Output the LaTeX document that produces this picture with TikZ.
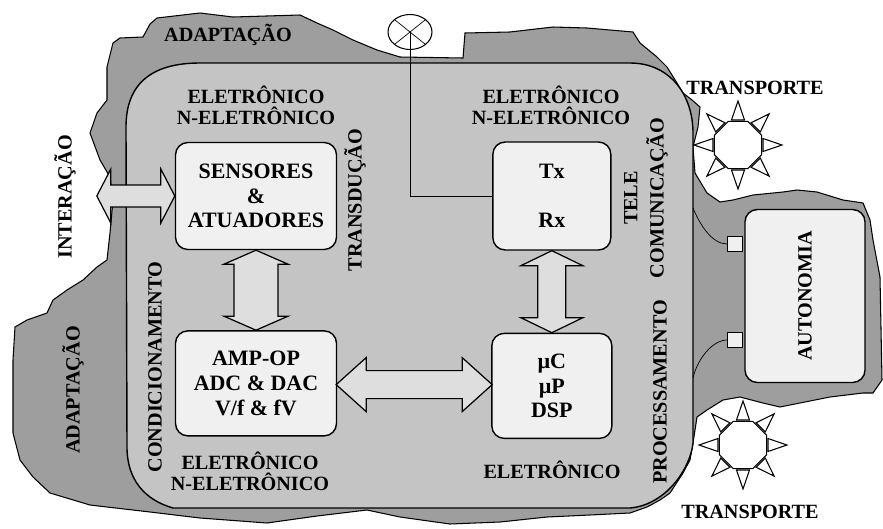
\documentclass[tikz,border=0pt]{standalone}
\usepackage{fontspec}
\setmainfont{Liberation Serif}
\usetikzlibrary{positioning, shapes.geometric, calc}

\definecolor{blobgray}{RGB}{158,158,158}
\definecolor{innergray}{RGB}{196,196,196}
\definecolor{boxgray}{RGB}{240,240,240}
\definecolor{arrowgray}{RGB}{222,222,222}

\begin{document}
\begin{tikzpicture}[
    x=0.02cm, y=-0.02cm,
    box/.style={font=\bfseries\fontsize{12.5}{14}\selectfont, draw, thick, fill=boxgray, rounded corners=7pt, align=center, inner sep=2pt},
    lbl/.style={font=\bfseries\fontsize{11.5}{12}\selectfont, align=center, inner sep=1pt},
    vlbl/.style={lbl, rotate=90},
    sq/.style={draw, fill=boxgray, minimum size=0.3cm, inner sep=0pt},
    ray/.style={draw, fill=white, line width=0.6pt},
    pics/dblarrow/.style n args={4}{code={
      \draw[fill=arrowgray, line width=0.7pt] (-#1,0) -- (-#1+#4,-#3) -- (-#1+#4,-#2) -- (#1-#4,-#2) -- (#1-#4,-#3) -- (#1,0)
        -- (#1-#4,#3) -- (#1-#4,#2) -- (-#1+#4,#2) -- (-#1+#4,#3) -- cycle;
    }}
]
  \useasboundingbox (0,0) rectangle (883,528);

  % Outer region (adaptation)
  \draw[fill=blobgray, line width=0.6pt] (113,43) -- (120,38) -- (143,37) -- (150,24) -- (157,18) -- (200,13) -- (233,17)
    -- (300,15) -- (317,23) -- (333,30) -- (353,40) -- (377,50) -- (400,57) -- (463,58) -- (465,33) -- (510,32)
    -- (553,27) -- (587,28) -- (633,32) -- (640,43) -- (657,57) -- (667,67) -- (677,83) -- (683,93) -- (692,100)
    -- (700,107) -- (698,127) -- (693,147) -- (695,173) -- (707,193) -- (720,202) -- (733,200) -- (753,195)
    -- (783,192) -- (797,190) -- (817,192) -- (843,200) -- (863,203) -- (870,220) -- (873,240) -- (880,277)
    -- (882,380) -- (873,393) -- (863,393) -- (830,397) -- (780,407) -- (763,403) -- (740,397) -- (723,400)
    -- (707,410) -- (697,417) -- (693,443) -- (690,460) -- (683,473) -- (670,493) -- (660,500) -- (647,507)
    -- (630,513) -- (590,515) -- (547,517) -- (500,522) -- (450,524) -- (400,517) -- (367,510) -- (317,516)
    -- (267,523) -- (200,518) -- (150,512) -- (90,505) -- (50,493) -- (33,477) -- (20,460) -- (13,433)
    -- (13,360) -- (15,327) -- (27,320) -- (47,313) -- (53,300) -- (67,290) -- (83,280) -- (97,267) -- (107,260)
    -- (110,233) -- (113,200) -- (110,177) -- (100,160) -- (90,133) -- (97,113) -- (107,100) -- (107,67) -- cycle;

  % Inner region (electronic system)
  \draw[fill=innergray, line width=0.8pt] (200,63) -- (630,63) .. controls (670,63) and (693,95) .. (693,133)
    -- (693,443) .. controls (690,470) and (665,505) .. (630,508) -- (173,508)
    .. controls (145,500) and (127,480) .. (127,447) -- (126,127) .. controls (126,85) and (150,63) .. (200,63) -- cycle;

  % Blocks
  \node[box, minimum width=3.22cm, minimum height=2.14cm] (sens) at (256,196) {SENSORES\\\&\\ATUADORES};
  \node[box, minimum width=3.22cm, minimum height=2.1cm, below=1.6cm of sens] (amp) {AMP-OP\\ADC \& DAC\\V/f \& fV};
  \node[box, minimum width=2.36cm, minimum height=2.16cm, right=3.1cm of sens] (tx) {Tx\\[14pt]Rx};
  \node[box, minimum width=2.4cm, minimum height=2.1cm, below=1.64cm of tx] (mu) {µC\\µP\\DSP};
  \node[box, minimum width=2.4cm, minimum height=3.46cm] (auto) at (805,296) {};
  \node[vlbl] (autolbl) at (auto) {AUTONOMIA};

  % Block arrows
  \pic at ($(sens.west)+(-39,0)$) {dblarrow={39}{11}{27}{14}};
  \pic[rotate=90] at ($(sens.south)!0.5!(amp.north)$) {dblarrow={40}{22}{32}{14}};
  \pic[rotate=90] at ($(tx.south)!0.5!(mu.north)$) {dblarrow={41}{14}{31}{15}};
  \pic at ($(amp.east)!0.5!(mu.west)$) {dblarrow={78}{14}{27}{30}};

  % Antenna
  \node[draw, ellipse, minimum width=0.88cm, minimum height=0.7cm, inner sep=0pt, line width=0.6pt] (ant) at (410,32) {};
  \draw (ant.north west) -- (ant.south east) (ant.north east) -- (ant.south west);
  \draw (ant.center) |- (tx.west);

  % Power connectors
  \node[sq] (sqa) at (735,244) {};
  \node[sq] (sqb) at (735,340) {};
  \coordinate (edgea) at (693,208);
  \coordinate (edgeb) at (693,378);
  \draw (sqa.west) .. controls (712,244) and (700,225) .. (edgea);
  \draw (sqb.west) .. controls (712,340) and (697,360) .. (edgeb);

  % Transport suns
  \node[draw, regular polygon, regular polygon sides=8, minimum size=1.02cm, fill=white, inner sep=0pt, line width=0.6pt] (suna) at (738,145) {};
  \node[draw, regular polygon, regular polygon sides=8, minimum size=1.02cm, fill=white, inner sep=0pt, line width=0.6pt] (sunb) at (743,445) {};
  \foreach \s in {suna, sunb}
    \foreach \a in {0,45,...,315}
      \draw[ray] ($(\s)+(\a:25)+(\a+90:6.5)$) -- ($(\s)+(\a:44)$) -- ($(\s)+(\a:25)+(\a-90:6.5)$) -- cycle;

  % Labels
  \node[lbl] (adaptop) at (228,35) {ADAPTAÇÃO};
  \node[lbl] (eltl) at (256,105) {ELETRÔNICO\\N-ELETRÔNICO};
  \node[lbl] (eltr) at (551,105) {ELETRÔNICO\\N-ELETRÔNICO};
  \node[lbl] (elbl) at (250,471) {ELETRÔNICO\\N-ELETRÔNICO};
  \node[lbl] (elbr) at (552,470) {ELETRÔNICO};
  \node[lbl] (transpa) at (755,88) {TRANSPORTE};
  \node[lbl] (transpb) at (750,512) {TRANSPORTE};
  \node[vlbl] (inter) at (65,197) {INTERAÇÃO};
  \node[vlbl] (adaptl) at (73,390) {ADAPTAÇÃO};
  \node[vlbl] (transd) at (355,200) {TRANSDUÇÃO};
  \node[vlbl] (cond) at (155,367) {CONDICIONAMENTO};
  \node[vlbl] (tele) at (646,198) {TELE\\[3pt]COMUNICAÇÃO};
  \node[vlbl] (proc) at (660,392) {PROCESSAMENTO};

\end{tikzpicture}
\end{document}
